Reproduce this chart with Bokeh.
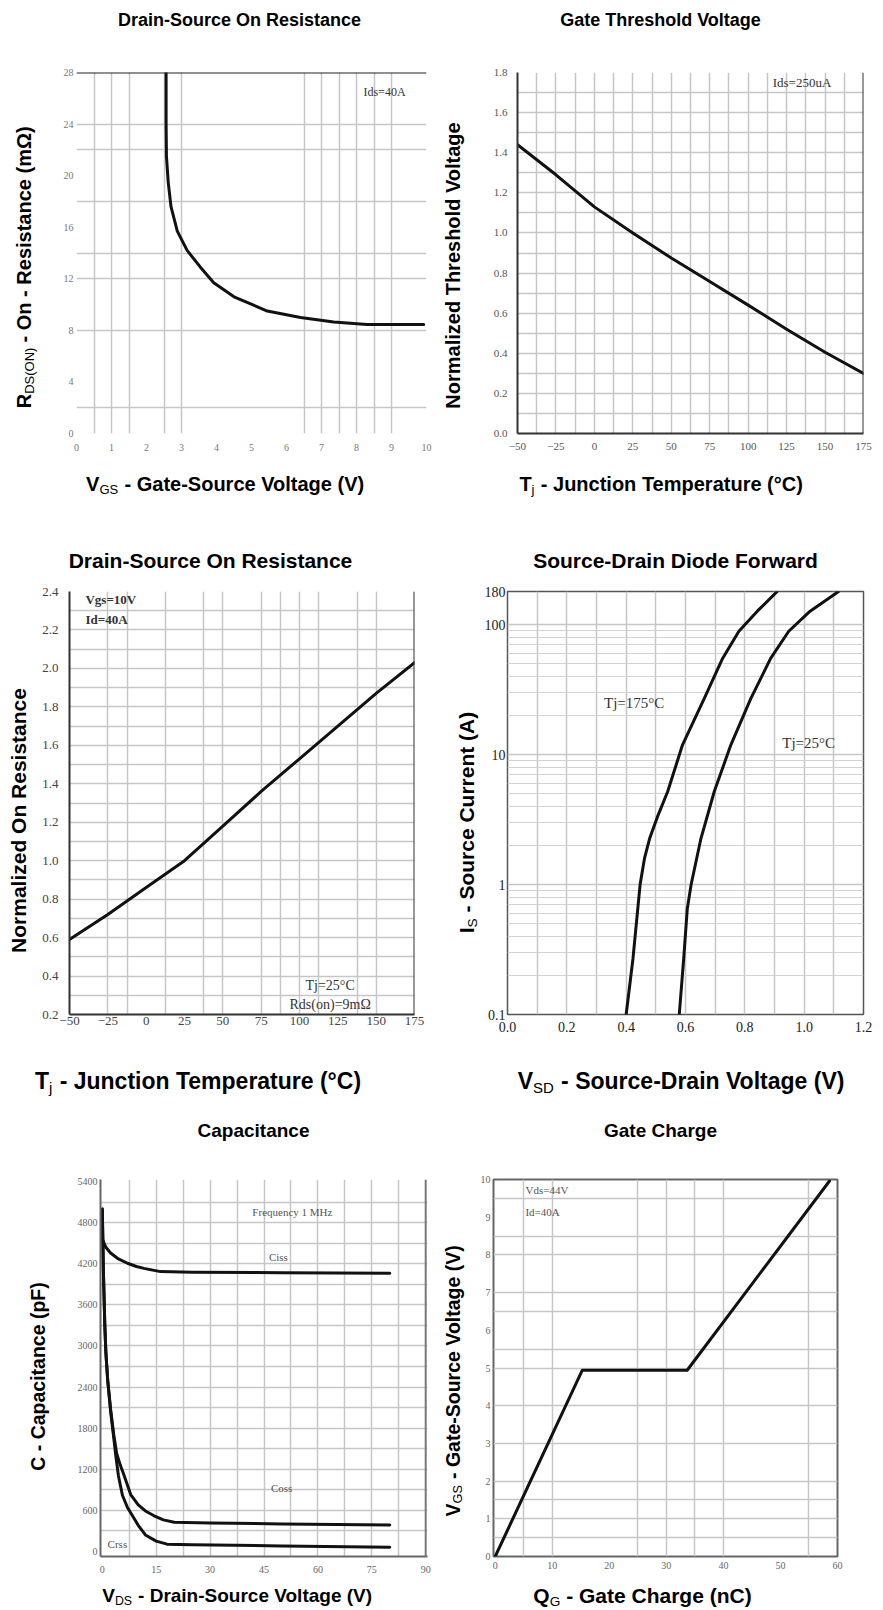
import math
from bokeh.plotting import figure
from bokeh.models import Range1d, Label, Span, FixedTicker, NumeralTickFormatter
from bokeh.layouts import column, row
from bokeh.embed import file_html
from bokeh.resources import INLINE

# ---------------- data ----------------
# Panel 1: Drain-Source On Resistance vs VGS (Id=40A)
p1_vgs = [2.56, 2.56, 2.57, 2.62, 2.70, 2.88, 3.16, 3.54, 3.92, 4.50, 5.45, 6.40, 7.35, 8.30, 9.92]
p1_rds = [28.0, 24.0, 21.5, 19.5, 17.6, 15.7, 14.2, 12.9, 11.7, 10.6, 9.5, 9.0, 8.65, 8.46, 8.46]
p1_xticks = [0, 1, 2, 3, 4, 5, 6, 7, 8, 9, 10]
p1_yticks = [0, 4, 8, 12, 16, 20, 24, 28]
p1_xgrid = [0.5, 1, 1.5, 2.5, 3, 6.5, 7, 7.5, 8, 8.5, 9]
p1_ygrid = [2, 8, 12, 14, 18, 22, 24]

# Panel 2: Gate Threshold Voltage vs Tj
p2_tj = [-50, -25, 0, 25, 50, 75, 100, 125, 150, 175]
p2_vth = [1.44, 1.29, 1.13, 1.00, 0.875, 0.758, 0.64, 0.52, 0.405, 0.30]
p2_xticks = [-50, -25, 0, 25, 50, 75, 100, 125, 150, 175]
p2_yticks = [0.0, 0.2, 0.4, 0.6, 0.8, 1.0, 1.2, 1.4, 1.6, 1.8]

# Panel 3: Normalized On Resistance vs Tj
p3_tj = [-50, -25, 0, 25, 50, 75, 100, 125, 150, 175]
p3_rn = [0.59, 0.72, 0.86, 1.00, 1.18, 1.36, 1.53, 1.70, 1.87, 2.03]
p3_xticks = [-50, -25, 0, 25, 50, 75, 100, 125, 150, 175]
p3_yticks = [0.2, 0.4, 0.6, 0.8, 1.0, 1.2, 1.4, 1.6, 1.8, 2.0, 2.2, 2.4]
p3_xgrid = [-25, -12.5, 12.5, 37.5, 50, 75, 87.5, 100, 112.5, 137.5, 150]

# Panel 4: Source-Drain Diode Forward
p4_vsd_175 = [0.40, 0.423, 0.447, 0.462, 0.479, 0.505, 0.54, 0.59, 0.663, 0.725, 0.78, 0.842, 0.909]
p4_is_175 = [0.1, 0.27, 1.0, 1.6, 2.26, 3.3, 5.2, 11.9, 27, 55, 89, 127, 180]
p4_vsd_25 = [0.579, 0.594, 0.606, 0.619, 0.652, 0.697, 0.753, 0.82, 0.887, 0.948, 1.02, 1.116]
p4_is_25 = [0.1, 0.27, 0.65, 1.0, 2.26, 5.2, 11.9, 27, 55, 89, 127, 180]
p4_xticks = [0.0, 0.2, 0.4, 0.6, 0.8, 1.0, 1.2]
p4_yticks = [0.1, 1, 10, 100, 180]
p4_ylabels = ["0.1", "1", "10", "100", "180"]

# Panel 5: Capacitance
p5_vds_ciss = [0, 1, 2.3, 4.5, 7.0, 9.5, 11.6, 16.2, 25, 50, 80]
p5_ciss = [4560, 4440, 4356, 4270, 4207, 4160, 4132, 4085, 4075, 4070, 4060]
p5_vds_coss = [0, 0.3, 0.7, 1.0, 1.5, 2.3, 3.2, 4.0, 5.0, 6.0, 7.9, 10, 12, 14.4, 17, 20, 30, 50, 80]
p5_coss = [5000, 4100, 3300, 2900, 2500, 2080, 1700, 1430, 1260, 1118, 830, 680, 590, 520, 460, 425, 415, 400, 385]
p5_vds_crss = [0, 0.3, 0.7, 1.0, 1.5, 2.3, 3.2, 3.8, 4.5, 5.6, 7.0, 8.4, 10, 12, 15, 18, 25, 50, 80]
p5_crss = [5000, 4100, 3300, 2900, 2500, 2050, 1650, 1380, 1100, 820, 640, 520, 380, 240, 150, 105, 95, 80, 60]
p5_xticks = [0, 15, 30, 45, 60, 75, 90]
p5_yticks = [0, 600, 1200, 1800, 2400, 3000, 3600, 4200, 4800, 5400]

# Panel 6: Gate Charge
p6_qg = [0, 15.25, 33.65, 58.6]
p6_vgs = [0, 4.94, 4.94, 9.96]
p6_xticks = [0, 10, 20, 30, 40, 50, 60]
p6_yticks = [0, 1, 2, 3, 4, 5, 6, 7, 8, 9, 10]
p6_xgrid = [5, 10, 25, 30, 35, 40, 55]
p6_ygrid = [0.5, 1, 1.5, 2, 3, 4, 5, 5.5, 6.5, 7, 8, 8.5, 9.5]

# ---------------- helpers ----------------
BOLD_W = {' ': 278, '!': 333, '(': 333, ')': 333, '-': 333, '.': 278, '=': 584, '°': 400, 'Ω': 768,
          'A': 722, 'B': 722, 'C': 722, 'D': 722, 'E': 667, 'F': 611, 'G': 778, 'H': 722, 'I': 278,
          'J': 556, 'K': 722, 'L': 611, 'M': 833, 'N': 722, 'O': 778, 'P': 667, 'Q': 778, 'R': 722,
          'S': 667, 'T': 611, 'U': 722, 'V': 667, 'W': 944, 'X': 667, 'Y': 667, 'Z': 611,
          'a': 556, 'b': 611, 'c': 556, 'd': 611, 'e': 556, 'f': 333, 'g': 611, 'h': 611, 'i': 278,
          'j': 278, 'k': 556, 'l': 278, 'm': 889, 'n': 611, 'o': 611, 'p': 611, 'q': 611, 'r': 389,
          's': 556, 't': 333, 'u': 611, 'v': 556, 'w': 778, 'x': 556, 'y': 556, 'z': 500}
REG_W = {' ': 278, '(': 333, ')': 333, 'D': 722, 'S': 667, 'G': 778, 'O': 778, 'N': 722, 'j': 222}

SANS = "Liberation Sans"
SERIF = "Liberation Serif"


def tw(s, size, bold):
    table = BOLD_W if bold else REG_W
    return sum(table.get(c, 556) for c in s) * size / 1000.0


def text_fig(x0, x1, y0, y1, top=0, bottom=0):
    """Blank figure whose data space equals page pixels (y grows downward).
    top/bottom: borders shared with the plots of the same row (frames are aligned)."""
    f = figure(width=x1 - x0, height=y1 - y0,
               x_range=Range1d(x0, x1), y_range=Range1d(y1 - bottom, y0 + top),
               output_backend="svg", toolbar_location=None,
               min_border_left=0, min_border_right=0,
               min_border_top=top, min_border_bottom=bottom)
    f.axis.visible = False
    f.grid.visible = False
    f.outline_line_color = None
    f.background_fill_color = "white"
    f.border_fill_color = "white"
    return f


def put(f, text, px, py, size, bold=False, font=SANS, angle=0.0, color="#000000"):
    f.add_layout(Label(x=px, y=py, text=text, text_font=font, text_font_size=f"{size}px",
                       text_font_style="bold" if bold else "normal", text_align="center",
                       text_baseline="middle", angle=angle, text_color=color))


def rich(f, parts, cx, cy, size=20, vertical=False):
    """Bold main text with smaller regular subscripts; each piece centred on its own slot."""
    sub = round(size * 0.65, 2)
    shift = round(size * 0.3, 2)
    sizes = [sub if s else size for _, s in parts]
    widths = [tw(t, sz, not s) for (t, s), sz in zip(parts, sizes)]
    W = sum(widths)
    pos = -W / 2.0
    for (t, s), sz, w in zip(parts, sizes, widths):
        lead = len(t) - len(t.lstrip(' '))
        txt = t.strip(' ')
        mid = pos + tw(' ' * lead, sz, not s) + tw(txt, sz, not s) / 2.0
        if not vertical:
            put(f, txt, cx + mid, cy + (shift if s else 0), sz, bold=not s)
        else:
            put(f, txt, cx + (shift if s else 0), cy - mid, sz, bold=not s, angle=math.pi / 2)
        pos += w


def data_text(p, text, x, y, size, bold=False, color="#333333", align="center"):
    p.add_layout(Label(x=x, y=y, text=text, text_font=SERIF, text_font_size=f"{size}px",
                       text_font_style="bold" if bold else "normal", text_align=align,
                       text_baseline="middle", text_color=color))


def make_fig(W, H, left, right, top, bottom, xr, yr, y_log=False):
    p = figure(width=W, height=H, x_range=Range1d(*xr), y_range=Range1d(*yr),
               y_axis_type="log" if y_log else "linear",
               output_backend="svg", toolbar_location=None,
               min_border_left=left, min_border_right=right,
               min_border_top=top, min_border_bottom=bottom)
    p.outline_line_color = None
    p.background_fill_color = "white"
    p.border_fill_color = "white"
    for ax in (p.xaxis[0], p.yaxis[0]):
        ax.major_tick_line_color = None
        ax.minor_tick_line_color = None
        ax.major_tick_out = 0
        ax.major_tick_in = 0
        ax.axis_line_color = None
    for g in (p.xgrid[0], p.ygrid[0]):
        g.grid_line_color = "#c6c6c6"
        g.grid_line_width = 1.5
    return p


def style_ticks(p, size, color, font=SERIF, xstand=5, ystand=5):
    for ax, st in ((p.xaxis[0], xstand), (p.yaxis[0], ystand)):
        ax.major_label_text_font = font
        ax.major_label_text_font_size = f"{size}px"
        ax.major_label_text_color = color
        ax.major_label_standoff = st


CURVE = dict(line_width=3, line_color="#111111", line_join="round", line_cap="round")

# Row borders (frames of plots in one row are aligned by the layout)
R1_TOP, R1_BOT = 32, 33     # row 1 canvas y 40-466  -> frames 72-433
R2_TOP, R2_BOT = 16, 46     # row 2 canvas y 575-1060 -> frames 591-1014
R3_TOP, R3_BOT = 29, 24     # row 3 canvas y 1150-1580 -> frames 1179-1556

# ---------------- Panel 1 (canvas x 50-441) ----------------
p1 = make_fig(391, 426, 26, 15, R1_TOP, R1_BOT, (0, 10), (0, 28))
p1.xaxis.ticker = FixedTicker(ticks=p1_xticks)
p1.yaxis.ticker = FixedTicker(ticks=p1_yticks)
p1.xgrid.ticker = FixedTicker(ticks=p1_xgrid)
p1.ygrid.ticker = FixedTicker(ticks=p1_ygrid)
style_ticks(p1, 10, "#777777", xstand=10, ystand=3)
p1.add_layout(Span(location=p1.y_range.end, dimension="width", line_color="#222222", line_width=2))
p1.line(p1_vgs, p1_rds, **CURVE)
data_text(p1, "Ids=40A", 8.8, 26.5, 12)

# ---------------- Panel 2 (canvas x 465-875) ----------------
p2 = make_fig(410, 426, 52, 12, R1_TOP, R1_BOT, (-50, 175), (0, 1.8))
p2.xaxis.ticker = FixedTicker(ticks=p2_xticks)
p2.yaxis.ticker = FixedTicker(ticks=p2_yticks)
p2.yaxis.formatter = NumeralTickFormatter(format="0.0")
p2.xgrid.ticker = FixedTicker(ticks=[-50 + 12.5 * i for i in range(1, 18)])
p2.ygrid.ticker = FixedTicker(ticks=[round(0.1 * i, 1) for i in range(1, 18)])
style_ticks(p2, 11, "#555555", xstand=9, ystand=10)
for ax in (p2.xaxis[0], p2.yaxis[0]):
    ax.axis_line_color = "#333333"
    ax.axis_line_width = 2
p2.add_layout(Span(location=p2.x_range.end, dimension="height", line_color="#333333", line_width=2))
p2.line(p2_tj, p2_vth, **CURVE)
data_text(p2, "Ids=250uA", 135, 1.75, 13)

# ---------------- Panel 3 (canvas x 32-441) ----------------
p3 = make_fig(409, 485, 37, 27, R2_TOP, R2_BOT, (-50, 175), (0.2, 2.4))
p3.xaxis.ticker = FixedTicker(ticks=p3_xticks)
p3.yaxis.ticker = FixedTicker(ticks=p3_yticks)
p3.yaxis.formatter = NumeralTickFormatter(format="0.0")
p3.xgrid.ticker = FixedTicker(ticks=p3_xgrid)
p3.ygrid.ticker = FixedTicker(ticks=[round(0.1 * i, 1) for i in range(3, 24)])
style_ticks(p3, 13, "#444444", xstand=2, ystand=11)
for ax in (p3.xaxis[0], p3.yaxis[0]):
    ax.axis_line_color = "#333333"
    ax.axis_line_width = 2
p3.add_layout(Span(location=p3.x_range.end, dimension="height", line_color="#333333", line_width=2))
p3.line(p3_tj, p3_rn, **CURVE)
data_text(p3, "Vgs=10V", -39.6, 2.358, 13, bold=True, align="left")
data_text(p3, "Id=40A", -39.6, 2.254, 13, bold=True, align="left")
data_text(p3, "Tj=25°C", 120, 0.351, 14)
data_text(p3, "Rds(on)=9mΩ", 120, 0.252, 14)

# ---------------- Panel 4 (canvas x 481-875) ----------------
p4 = make_fig(394, 485, 25, 12, R2_TOP, R2_BOT, (0, 1.2), (0.1, 180), y_log=True)
p4.xaxis.ticker = FixedTicker(ticks=p4_xticks)
p4.xaxis.formatter = NumeralTickFormatter(format="0.0")
p4.yaxis.ticker = FixedTicker(ticks=p4_yticks)
p4.yaxis.major_label_overrides = {t: s for t, s in zip(p4_yticks, p4_ylabels)}
p4.xgrid.ticker = FixedTicker(ticks=[round(0.1 * i, 1) for i in range(1, 12)])
minor = []
for dec in (0.1, 1, 10):
    minor += [round(dec * k, 3) for k in range(2, 10)]
p4.ygrid.ticker = FixedTicker(ticks=[1, 10, 100], minor_ticks=minor)
p4.ygrid.minor_grid_line_color = "#d2d2d2"
p4.ygrid.minor_grid_line_width = 1.2
style_ticks(p4, 14, "#222222", xstand=7, ystand=2)
p4.outline_line_color = "#555555"
p4.outline_line_width = 1.5
p4.line(p4_vsd_175, p4_is_175, **CURVE)
p4.line(p4_vsd_25, p4_is_25, **CURVE)
data_text(p4, "Tj=175°C", 0.427, 24.8, 15)
data_text(p4, "Tj=25°C", 1.015, 12.2, 15)

# ---------------- Panel 5 (canvas x 50-441) ----------------
p5 = make_fig(391, 430, 50, 14, R3_TOP, R3_BOT, (-0.5, 90.5), (-75, 5430))
p5.xaxis.ticker = FixedTicker(ticks=p5_xticks)
p5.yaxis.ticker = FixedTicker(ticks=p5_yticks)
p5.xgrid.ticker = FixedTicker(ticks=[7.5 * i for i in range(1, 12)])
p5.ygrid.ticker = FixedTicker(ticks=[300 * i for i in range(1, 18)])
style_ticks(p5, 10, "#666666", xstand=9, ystand=3)
for ax in (p5.xaxis[0], p5.yaxis[0]):
    ax.axis_line_color = "#666666"
    ax.axis_line_width = 2
p5.add_layout(Span(location=p5_xticks[-1], dimension="height", line_color="#777777", line_width=2))
p5.line(p5_vds_ciss, p5_ciss, **CURVE)
p5.line(p5_vds_coss, p5_coss, **CURVE)
p5.line(p5_vds_crss, p5_crss, **CURVE)
data_text(p5, "Frequency 1 MHz", 52.9, 4953, 11, color="#555555")
data_text(p5, "Ciss", 49.0, 4296, 11, color="#555555")
data_text(p5, "Coss", 49.9, 925, 11, color="#555555")
data_text(p5, "Crss", 4.2, 110, 11, color="#555555")

# ---------------- Panel 6 (canvas x 466-875) ----------------
p6 = make_fig(409, 430, 27, 38, R3_TOP, R3_BOT, (-0.3, 60), (0, 10))
p6.xaxis.ticker = FixedTicker(ticks=p6_xticks)
p6.yaxis.ticker = FixedTicker(ticks=p6_yticks)
p6.xgrid.ticker = FixedTicker(ticks=p6_xgrid)
p6.ygrid.ticker = FixedTicker(ticks=p6_ygrid)
style_ticks(p6, 10, "#666666", xstand=5, ystand=3)
p6.outline_line_color = "#666666"
p6.outline_line_width = 2
p6.line(p6_qg, p6_vgs, **CURVE)
data_text(p6, "Vds=44V", 5.3, 9.71, 11, color="#555555", align="left")
data_text(p6, "Id=40A", 5.3, 9.14, 11, color="#555555", align="left")

# ---------------- text strips (titles and axis titles), page pixel space ----------------
T1 = text_fig(0, 875, 0, 40)
put(T1, "Drain-Source On Resistance", 239, 19, 18, bold=True)
put(T1, "Gate Threshold Voltage", 660, 19, 18, bold=True)

Y1 = text_fig(0, 50, 40, 466, R1_TOP, R1_BOT)
rich(Y1, [("R", False), ("DS(ON)", True), (" - On - Resistance (mΩ)", False)], 23, 267, 20, vertical=True)
Y2 = text_fig(441, 465, 40, 466, R1_TOP, R1_BOT)
rich(Y2, [("Normalized Threshold Voltage", False)], 452, 265, 20, vertical=True)

X1 = text_fig(0, 875, 466, 508)
rich(X1, [("V", False), ("GS", True), (" - Gate-Source Voltage (V)", False)], 225, 483, 20)
rich(X1, [("T", False), ("j", True), (" - Junction Temperature (°C)", False)], 661, 483, 20)

T2 = text_fig(0, 875, 508, 575)
put(T2, "Drain-Source On Resistance", 210, 560, 21, bold=True)
put(T2, "Source-Drain Diode Forward", 675, 560, 21, bold=True)

Y3 = text_fig(0, 32, 575, 1060, R2_TOP, R2_BOT)
rich(Y3, [("Normalized On Resistance", False)], 18, 820, 21, vertical=True)
Y4 = text_fig(441, 481, 575, 1060, R2_TOP, R2_BOT)
rich(Y4, [("I", False), ("S", True), (" - Source Current (A)", False)], 466, 822, 21, vertical=True)

X2 = text_fig(0, 875, 1060, 1100)
rich(X2, [("T", False), ("j", True), (" - Junction Temperature (°C)", False)], 198, 1080, 23)
rich(X2, [("V", False), ("SD", True), (" - Source-Drain Voltage (V)", False)], 681, 1080, 23)

T3 = text_fig(0, 875, 1100, 1150)
put(T3, "Capacitance", 253, 1130, 19, bold=True)
put(T3, "Gate Charge", 660, 1130, 19, bold=True)

Y5 = text_fig(0, 50, 1150, 1580, R3_TOP, R3_BOT)
rich(Y5, [("C - Capacitance (pF)", False)], 37, 1376, 19.5, vertical=True)
Y6 = text_fig(441, 466, 1150, 1580, R3_TOP, R3_BOT)
rich(Y6, [("V", False), ("GS", True), (" - Gate-Source Voltage (V)", False)], 452, 1380, 19.5, vertical=True)

X3 = text_fig(0, 875, 1580, 1608)
rich(X3, [("V", False), ("DS", True), (" - Drain-Source Voltage (V)", False)], 237, 1595, 19)
rich(X3, [("Q", False), ("G", True), (" - Gate Charge (nC)", False)], 642, 1595, 21)

layout = column(
    T1, row(Y1, p1, Y2, p2), X1,
    T2, row(Y3, p3, Y4, p4), X2,
    T3, row(Y5, p5, Y6, p6), X3,
)
open("out.html", "w").write(file_html(layout, INLINE))
